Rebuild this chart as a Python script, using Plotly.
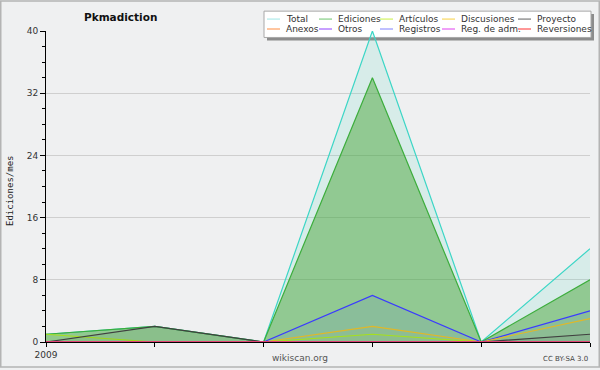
import plotly.graph_objects as go

# ---- data ----
months = [0, 1, 2, 3, 4, 5]
tick_labels = ["2009", "", "", "", "", ""]
series_names = ["Total", "Ediciones", "Artículos", "Discusiones", "Proyecto",
                "Anexos", "Otros", "Registros", "Reg. de adm.", "Reversiones"]
total = [1, 2, 0, 40, 0, 12]
ediciones = [1, 2, 0, 34, 0, 8]
articulos = [1, 0, 0, 1, 0, 0]
discusiones = [0, 0, 0, 2, 0, 3]
proyecto = [0, 2, 0, 0, 0, 1]
anexos = [0, 0, 0, 0, 0, 0]
otros = [0, 0, 0, 0, 0, 0]
registros = [0, 0, 0, 6, 0, 4]
reg_adm = [0, 0, 0, 0, 0, 0]
reversiones = [0, 0, 0, 0, 0, 0]
y_ticks = [0, 8, 16, 24, 32, 40]

values = [total, ediciones, articulos, discusiones, proyecto,
          anexos, otros, registros, reg_adm, reversiones]
line_colors = ["#3cd6c6", "#3cad3c", "#a6e01c", "#e0b828", "#404040",
               "#ff8040", "#8a40e0", "#3a3aff", "#e040e0", "#ff3030"]
legend_colors = ["#9ee6e6", "#6cc46c", "#c8f040", "#f8d040", "#606060",
                 "#ff8c40", "#9040ff", "#8080ff", "#e040f0", "#ff3030"]
fill_colors = ["rgba(80,215,190,0.15)", "rgba(60,160,40,0.45)", "rgba(160,224,30,0.05)",
               "rgba(224,184,40,0.05)", "rgba(40,40,40,0.06)", "rgba(0,0,0,0)",
               "rgba(0,0,0,0)", "rgba(64,64,255,0.08)", "rgba(0,0,0,0)", "rgba(0,0,0,0)"]

W, H = 600, 370
L, R, T, B = 46, 10, 31, 26
PW, PH = W - L - R, H - T - B


def px(x):
    return (x - L) / PW


def py(y):
    return (H - B - y) / PH


fig = go.Figure()
draw_order = [0, 1, 7, 3, 2, 4, 5, 6, 8, 9]
for i in draw_order:
    fig.add_trace(go.Scatter(
        x=months, y=values[i], name=series_names[i], mode="lines",
        line=dict(color=line_colors[i], width=1.2),
        fill="tozeroy", fillcolor=fill_colors[i], showlegend=False,
        hoverinfo="skip"))

shapes = []
annotations = []

# outer image border
shapes.append(dict(type="rect", xref="paper", yref="paper",
                   x0=px(0.75), x1=px(W - 0.75), y0=py(0.75), y1=py(H - 0.75),
                   line=dict(color="#b4b4b4", width=1.5), layer="below"))

# legend box with shadow
shapes.append(dict(type="rect", xref="paper", yref="paper",
                   x0=px(267), x1=px(594), y0=py(14), y1=py(40.5),
                   fillcolor="#8c8c8c", line=dict(width=0), layer="below"))
shapes.append(dict(type="rect", xref="paper", yref="paper",
                   x0=px(264), x1=px(591), y0=py(11), y1=py(37.5),
                   fillcolor="#ffffff", line=dict(color="#a8a8a8", width=1), layer="below"))

col_x = [267, 319, 380, 442, 518]
row_y = [19, 29]
for k, name in enumerate(series_names):
    r, c = divmod(k, 5)
    x0 = col_x[c]
    shapes.append(dict(type="line", xref="paper", yref="paper",
                       x0=px(x0), x1=px(x0 + 13), y0=py(row_y[r]), y1=py(row_y[r]),
                       line=dict(color=legend_colors[k], width=1)))
    annotations.append(dict(x=px(x0 + 17), y=py(row_y[r]), xref="paper", yref="paper",
                            text=name, showarrow=False, xanchor="left", yanchor="middle",
                            font=dict(family="DejaVu Sans", size=9, color="#333333")))

annotations.append(dict(x=px(120), y=py(17), xref="paper", yref="paper",
                        text="<b>Pkmadiction</b>", showarrow=False,
                        xanchor="center", yanchor="middle",
                        font=dict(family="DejaVu Sans", size=10.5, color="#111111")))
annotations.append(dict(x=px(10), y=py(192), xref="paper", yref="paper",
                        text="Ediciones/mes", showarrow=False, textangle=-90,
                        xanchor="center", yanchor="middle",
                        font=dict(family="DejaVu Sans Mono", size=9, color="#222222")))
annotations.append(dict(x=px(300), y=py(360), xref="paper", yref="paper",
                        text="wikiscan.org", showarrow=False,
                        xanchor="center", yanchor="middle",
                        font=dict(family="DejaVu Sans", size=9, color="#555555")))
annotations.append(dict(x=px(590), y=py(361), xref="paper", yref="paper",
                        text="CC BY-SA 3.0", showarrow=False,
                        xanchor="right", yanchor="middle",
                        font=dict(family="DejaVu Sans", size=7, color="#444444")))

fig.update_layout(
    width=W, height=H,
    margin=dict(l=L, r=R, t=T, b=B, pad=0),
    paper_bgcolor="#eff0f1", plot_bgcolor="#eff0f1",
    showlegend=False,
    shapes=shapes, annotations=annotations,
    xaxis=dict(range=[0, 5], tickvals=months, ticktext=tick_labels,
               showgrid=False, zeroline=False, showline=True, linecolor="#000000",
               linewidth=1, ticks="outside", ticklen=4, tickcolor="#000000",
               tickfont=dict(family="DejaVu Sans", size=9, color="#333333"),
               fixedrange=True),
    yaxis=dict(range=[0, 40], tickvals=y_ticks, showgrid=True, gridcolor="#cfcfcf",
               gridwidth=1, zeroline=False, showline=True, linecolor="#000000",
               linewidth=1, ticks="outside", ticklen=5, tickcolor="#000000",
               tickfont=dict(family="DejaVu Sans", size=9, color="#333333"),
               minor=dict(dtick=2, ticks="outside", ticklen=3, tickcolor="#000000",
                          showgrid=False),
               fixedrange=True),
)

fig.write_html("out.html", config={"displayModeBar": False},
               post_script="document.body.style.margin='0px';document.body.style.overflow='hidden';")
